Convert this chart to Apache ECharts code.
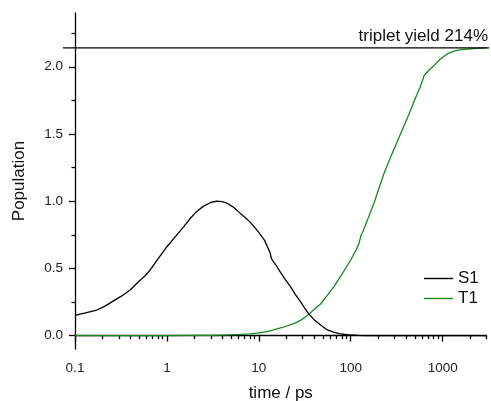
<!DOCTYPE html>
<html>
<head>
<meta charset="utf-8">
<script src="https://cdn.jsdelivr.net/npm/echarts@6/dist/echarts.min.js"></script>
<style>
  html, body { margin: 0; padding: 0; background: #fff; }
  #chart { width: 491px; height: 401px; }
</style>
</head>
<body>
<div id="chart"></div>
<script>
// Singlet (S1) population vs. delay time (ps)
const s1Time = [0.1, 0.13, 0.173, 0.21, 0.262, 0.32, 0.398, 0.5, 0.58, 0.658, 0.8, 1.0, 1.25, 1.52, 1.79, 2.1, 2.5, 3.0, 3.5, 4.0, 4.5, 5.3, 6.3, 7.2, 8, 9, 10, 11.5, 12.8, 13.3, 13.6, 14.0, 15.5, 17, 19.5, 22.1, 25, 28.4, 31.5, 35, 40, 47, 55.6, 65, 75, 87, 100, 120, 150, 3000];
const s1Pop  = [0.151, 0.168, 0.19, 0.217, 0.258, 0.293, 0.339, 0.406, 0.445, 0.488, 0.57, 0.661, 0.74, 0.809, 0.871, 0.922, 0.963, 0.99, 1.0, 0.997, 0.985, 0.955, 0.909, 0.875, 0.846, 0.805, 0.768, 0.71, 0.64, 0.615, 0.58, 0.562, 0.52, 0.475, 0.415, 0.364, 0.305, 0.252, 0.205, 0.161, 0.117, 0.079, 0.042, 0.025, 0.015, 0.008, 0.004, 0.001, 0, 0];

// Triplet (T1) population vs. delay time (ps)
const t1Time = [0.1, 1, 2, 3, 4.5, 6.3, 8, 9.6, 12, 14.5, 18, 22, 25, 28.4, 32, 35, 40, 47, 55, 65.6, 80, 100, 115, 123, 130, 134, 152, 180, 230, 280, 350, 420, 510, 570, 630, 700, 807, 950, 1130, 1350, 1580, 2210, 3000];
const t1Pop  = [0, 0, 0.001, 0.002, 0.005, 0.009, 0.013, 0.018, 0.028, 0.042, 0.06, 0.079, 0.095, 0.113, 0.137, 0.158, 0.195, 0.235, 0.295, 0.364, 0.455, 0.562, 0.64, 0.686, 0.75, 0.765, 0.859, 0.99, 1.206, 1.35, 1.503, 1.63, 1.774, 1.85, 1.935, 1.97, 2.01, 2.06, 2.097, 2.118, 2.127, 2.136, 2.14];

// Final triplet yield (plateau level)
const tripletYield = 2.14;

// Tick labels
const xMajorTicks = [0.1, 1, 10, 100, 1000];
const yMajorTicks = [0, 0.5, 1.0, 1.5, 2.0];
const yMinorTicks = [0.25, 0.75, 1.25, 1.75, 2.25];

const X_MIN = 0.1, X_MAX = 3000;
const Y_MIN = -0.1, Y_MAX = 2.4;

// minor log ticks 2..9 within each decade
const xMinorTicks = [];
xMajorTicks.forEach(d => {
  for (let k = 2; k <= 9; k++) {
    const v = +(d * k).toPrecision(3);
    if (v <= X_MAX) xMinorTicks.push(v);
  }
});

const FONT = "'Liberation Sans', Arial, Helvetica, sans-serif";
const GREEN = '#15891a';

const pairs = (xs, ys) => xs.map((x, i) => [x, ys[i]]);

const chart = echarts.init(document.getElementById('chart'), null, { renderer: 'canvas' });

const axisLineStyle = { color: '#000', width: 1.3 };

chart.setOption({
  animation: false,
  backgroundColor: '#fff',
  textStyle: { fontFamily: FONT },
  grid: { left: 75, right: 4.5, top: 13, bottom: 52, containLabel: false, outerBoundsMode: 'none' },
  legend: {
    orient: 'vertical',
    left: 424,
    top: 270,
    itemWidth: 29,
    itemHeight: 1.4,
    itemGap: 3,
    padding: 0,
    icon: 'rect',
    textStyle: { fontFamily: FONT, fontSize: 17, color: '#111' },
    data: ['S1', 'T1']
  },
  xAxis: [
    {
      type: 'log', logBase: 10, min: X_MIN, max: X_MAX, position: 'bottom',
      name: 'time / ps', nameLocation: 'middle', nameGap: 36,
      nameTextStyle: { fontFamily: FONT, fontSize: 17, color: '#111' },
      axisLine: { show: true, lineStyle: axisLineStyle },
      axisTick: { show: true, inside: false, length: 6, customValues: xMajorTicks, lineStyle: axisLineStyle },
      axisLabel: {
        customValues: xMajorTicks, margin: 12, fontSize: 13.5, color: '#222', fontFamily: FONT,
        formatter: v => String(+(+v).toPrecision(3))
      },
      splitLine: { show: false }, minorTick: { show: false }
    },
    {
      type: 'log', logBase: 10, min: X_MIN, max: X_MAX, position: 'bottom',
      axisLine: { show: false },
      axisTick: { show: true, inside: false, length: 3.5, customValues: xMinorTicks, lineStyle: axisLineStyle },
      axisLabel: { show: false },
      splitLine: { show: false }
    }
  ],
  yAxis: [
    {
      type: 'value', min: Y_MIN, max: Y_MAX, position: 'left',
      name: 'Population', nameLocation: 'middle', nameGap: 47,
      nameTextStyle: { fontFamily: FONT, fontSize: 17, color: '#111' },
      axisLine: { show: true, lineStyle: axisLineStyle },
      axisTick: { show: true, inside: false, length: 6, customValues: yMajorTicks, lineStyle: axisLineStyle },
      axisLabel: {
        customValues: yMajorTicks, margin: 12, fontSize: 13.5, color: '#222', fontFamily: FONT,
        formatter: v => (+v).toFixed(1)
      },
      splitLine: { show: false }
    },
    {
      type: 'value', min: Y_MIN, max: Y_MAX, position: 'left',
      axisLine: { show: false },
      axisTick: { show: true, inside: false, length: 3.5, customValues: yMinorTicks, lineStyle: axisLineStyle },
      axisLabel: { show: false },
      splitLine: { show: false }
    }
  ],
  series: [
    {
      name: 'S1', type: 'line', xAxisIndex: 0, yAxisIndex: 0,
      data: pairs(s1Time, s1Pop), showSymbol: false, symbol: 'none', smooth: false,
      lineStyle: { color: '#000', width: 1.3 }, itemStyle: { color: '#000' }, z: 3
    },
    {
      name: 'T1', type: 'line', xAxisIndex: 0, yAxisIndex: 0,
      data: pairs(t1Time, t1Pop), showSymbol: false, symbol: 'none', smooth: false,
      lineStyle: { color: GREEN, width: 1.3 }, itemStyle: { color: GREEN }, z: 2
    }
  ]
});

// plateau reference line with its label, spanning past the left axis
const yPix = chart.convertToPixel({ yAxisIndex: 0 }, tripletYield);
chart.setOption({
  graphic: [
    {
      type: 'line', shape: { x1: 63, y1: yPix, x2: 489, y2: yPix },
      style: { stroke: '#000', lineWidth: 1.2 }, z: 10
    },
    {
      type: 'text', x: 488, y: yPix - 3,
      style: {
        text: 'triplet yield ' + Math.round(tripletYield * 100) + '%',
        font: '17px ' + FONT, fill: '#111', align: 'right', verticalAlign: 'bottom'
      }, z: 10
    }
  ]
});
</script>
</body>
</html>
